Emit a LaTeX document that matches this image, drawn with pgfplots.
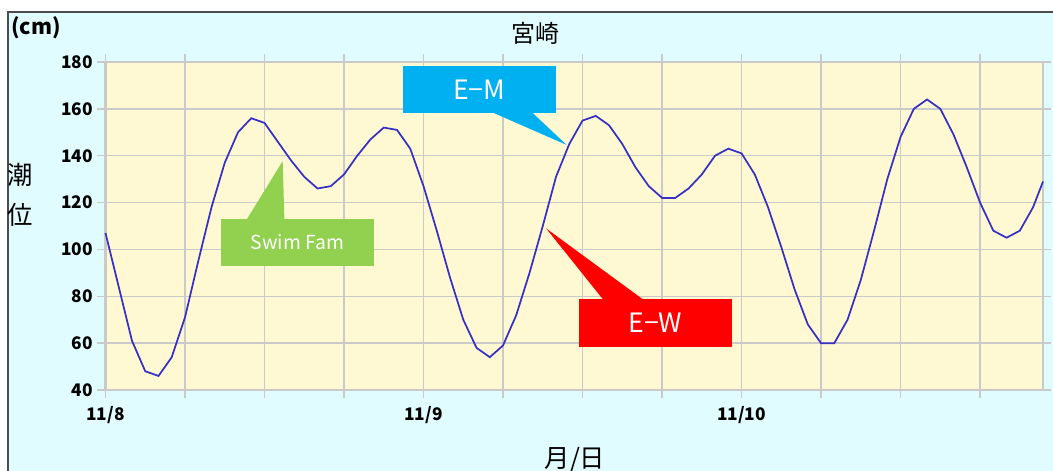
\documentclass[border=0pt]{standalone}
\usepackage{pgfplots}
\pgfplotsset{compat=1.18}
\usepackage{fontspec}
\setmainfont{Noto Sans CJK JP}
\definecolor{bgcyan}{RGB}{224,252,255}
\definecolor{plotbg}{RGB}{255,249,211}
\definecolor{gridc}{RGB}{202,202,202}
\definecolor{tide}{RGB}{55,48,196}
\definecolor{cblue}{RGB}{0,176,240}
\definecolor{cred}{RGB}{255,0,0}
\definecolor{cgreen}{RGB}{146,208,80}
\pgfplotstableread{
h v
0 107
1 84
2 61
3 48
4 46
5 54
6 71
7 95
8 118
9 137
10 150
11 156
12 154
13 146
14 138
15 131
16 126
17 127
18 132
19 140
20 147
21 152
22 151
23 143
24 127
25 108
26 88
27 70
28 58
29 54
30 59
31 72
32 90
33 110
34 131
35 145
36 155
37 157
38 153
39 145
40 135
41 127
42 122
43 122
44 126
45 132
46 140
47 143
48 141
49 132
50 118
51 101
52 83
53 68
54 60
55 60
56 70
57 87
58 108
59 130
60 148
61 160
62 164
63 160
64 149
65 135
66 120
67 108
68 105
69 108
70 118
70.75 129
}\tide
\begin{document}
\begin{tikzpicture}
\begin{scope}[x=0.75pt,y=0.75pt]
\useasboundingbox (-105.5,-81) rectangle (947.5,390);
\fill[white] (-105.5,-81) rectangle (947.5,390);
\fill[bgcyan] (-97.5,-81) rectangle (947.5,378);
\draw[black!70,line width=1pt] (-97.5,-81) -- (-97.5,378) -- (947.5,378);
\node[font=\bfseries\fontsize{16}{18}\selectfont] at (-69.5,362) {(cm)};
\node[font=\fontsize{18}{20}\selectfont] at (429.5,357) {宮崎};
\node[font=\fontsize{19}{21}\selectfont] at (-85.5,215) {潮};
\node[font=\fontsize{19}{21}\selectfont] at (-85.5,175) {位};
\node[font=\fontsize{19}{21}\selectfont] at (469.5,-70) {月/日};
\end{scope}
\begin{axis}[
  at={(0,0)}, anchor=south west,
  scale only axis,
  width=703.125pt, height=246pt,
  xmin=0, xmax=70.75, ymin=40, ymax=180,
  xtick={0,6,...,66},
  xticklabels={11/8,,,,11/9,,,,11/10,,,},
  ytick={40,60,...,180},
  /pgf/number format/assume math mode=true,
  ticklabel style={font=\bfseries\fontsize{13}{15}\selectfont},
  xticklabel style={yshift=-3pt},
  grid=major,
  major grid style={gridc, line width=1.1pt},
  tick align=outside,
  major tick length=6pt,
  tick style={gridc, line width=1.1pt},
  axis line style={gridc, line width=1.8pt},
  axis background/.style={fill=plotbg},
  clip=false,
]
\addplot[tide, line width=1.3pt] table[x=h,y=v] {\tide};
% E-M callout
\fill[cblue] (22.47,178.3) rectangle (34.0,158.4);
\fill[cblue] (29.15,158.6) -- (34.8,144.6) -- (32.17,158.6) -- cycle;
\node[white,font=\fontsize{20}{22}\selectfont] at (28.2,168.3) {E−M};
% E-W callout
\fill[cred] (35.76,78.7) rectangle (47.3,58.5);
\fill[cred] (37.57,78.5) -- (33.25,109.0) -- (40.6,78.5) -- cycle;
\node[white,font=\fontsize{20}{22}\selectfont] at (41.5,68.6) {E−W};
% Swim Fam callout
\fill[cgreen] (8.72,113.0) rectangle (20.26,93.1);
\fill[cgreen] (10.66,112.8) -- (13.37,137.7) -- (13.5,112.8) -- cycle;
\node[white,font=\fontsize{14.5}{16}\selectfont] at (14.49,103.0) {Swim Fam};
\end{axis}
\end{tikzpicture}
\end{document}
